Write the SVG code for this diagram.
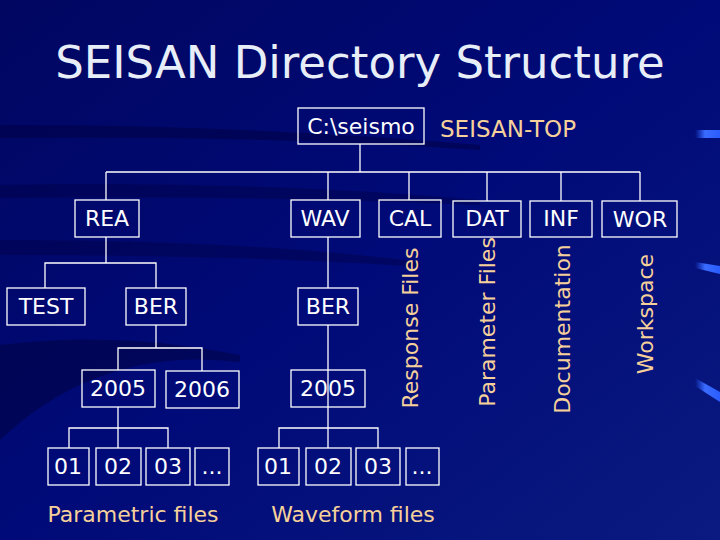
<svg xmlns="http://www.w3.org/2000/svg" width="720" height="540" viewBox="0 0 720 540">
<defs>
<linearGradient id="bg" x1="0" y1="0" x2="1" y2="1">
<stop offset="0" stop-color="#000660"/>
<stop offset="0.5" stop-color="#000a78"/>
<stop offset="1" stop-color="#0a1a80"/>
</linearGradient>
<linearGradient id="bar" x1="0" y1="0" x2="1" y2="0">
<stop offset="0" stop-color="#2a5cff" stop-opacity="0"/>
<stop offset="0.4" stop-color="#3a6cff"/>
<stop offset="1" stop-color="#2a5cff"/>
</linearGradient>
<style>
.b{fill:none;stroke:#fff;stroke-width:1.3}
.t{font-family:"DejaVu Sans",sans-serif;fill:#fff;font-size:22px;text-anchor:middle}
.p{font-family:"DejaVu Sans",sans-serif;fill:#f6d09a;text-anchor:middle}
.c line, .c polyline{stroke:#fff;stroke-width:1.3;fill:none}
</style>
</defs>
<rect width="720" height="540" fill="url(#bg)"/>
<path d="M0 125 Q250 125 480 145 L480 150 Q250 135 0 138Z" fill="#000040" opacity="0.5"/>
<path d="M0 185 Q250 180 480 200 L480 205 Q250 195 0 198Z" fill="#000040" opacity="0.4"/>
<path d="M0 240 Q250 240 420 262 L420 267 Q250 255 0 255Z" fill="#000040" opacity="0.4"/>
<path d="M0 345 Q120 330 240 355 L240 362 Q100 345 0 440Z" fill="#000030" opacity="0.4"/>
<rect x="695" y="130" width="25" height="8" fill="url(#bar)"/>
<path d="M695 262 L720 266 L720 274 L695 268Z" fill="url(#bar)"/>
<path d="M695 378 L720 392 L720 402 L695 386Z" fill="url(#bar)"/>
<text x="360" y="78" font-family="DejaVu Sans,sans-serif" font-size="45" fill="#e8eef8" text-anchor="middle">SEISAN Directory Structure</text>
<text x="440" y="137" class="p" font-size="23" style="text-anchor:start">SEISAN-TOP</text>
<g class="c" id="connectors">
<line x1="360" y1="144" x2="360" y2="172"/>
<line x1="106" y1="172" x2="640" y2="172"/>
<line x1="106" y1="172" x2="106" y2="200"/>
<line x1="328" y1="172" x2="328" y2="200"/>
<line x1="409" y1="172" x2="409" y2="200"/>
<line x1="487" y1="172" x2="487" y2="201"/>
<line x1="561" y1="172" x2="561" y2="201"/>
<line x1="640" y1="172" x2="640" y2="201"/>
<line x1="106" y1="237" x2="106" y2="263"/>
<polyline points="45,288 45,263 156,263 156,288"/>
<line x1="328" y1="237" x2="328" y2="288"/>
<line x1="156" y1="325" x2="156" y2="348"/>
<polyline points="118,370 118,348 202,348 202,371"/>
<line x1="118" y1="407" x2="118" y2="448"/>
<polyline points="69,448 69,428 168,428 168,448"/>
<line x1="328" y1="325" x2="328" y2="448"/>
<polyline points="279,448 279,428 378,428 378,448"/>
</g>
<g id="root"><rect class="b" x="298" y="108" width="126" height="36"/><text class="t" x="361" y="134">C:\seismo</text></g>
<g id="rea"><rect class="b" x="75" y="200" width="64" height="37"/><text class="t" x="107" y="226">REA</text></g>
<g id="wav"><rect class="b" x="291" y="200" width="69" height="37"/><text class="t" x="325" y="226">WAV</text></g>
<g id="cal"><rect class="b" x="379" y="200" width="62" height="37"/><text class="t" x="410" y="226">CAL</text></g>
<g id="dat"><rect class="b" x="453" y="201" width="68" height="36"/><text class="t" x="487" y="226">DAT</text></g>
<g id="inf"><rect class="b" x="530" y="201" width="62" height="36"/><text class="t" x="561" y="226">INF</text></g>
<g id="wor"><rect class="b" x="602" y="201" width="75" height="36"/><text class="t" x="640" y="227">WOR</text></g>
<g id="test"><rect class="b" x="7" y="288" width="78" height="37"/><text class="t" x="46" y="314">TEST</text></g>
<g id="ber1"><rect class="b" x="126" y="288" width="60" height="37"/><text class="t" x="156" y="314">BER</text></g>
<g id="ber2"><rect class="b" x="298" y="288" width="60" height="37"/><text class="t" x="328" y="314">BER</text></g>
<g id="y2005a"><rect class="b" x="82" y="370" width="73" height="37"/><text class="t" x="118" y="396">2005</text></g>
<g id="y2006"><rect class="b" x="166" y="371" width="73" height="37"/><text class="t" x="202" y="397">2006</text></g>
<g id="y2005b"><rect class="b" x="291" y="370" width="74" height="37"/><text class="t" x="328" y="396">2005</text></g>
<g id="p01"><rect class="b" x="48" y="448" width="41" height="37"/><text class="t" x="68" y="474">01</text></g>
<g id="p02"><rect class="b" x="96" y="448" width="45" height="37"/><text class="t" x="118" y="474">02</text></g>
<g id="p03"><rect class="b" x="146" y="448" width="44" height="37"/><text class="t" x="168" y="474">03</text></g>
<g id="pdots"><rect class="b" x="195" y="448" width="34" height="37"/><text class="t" x="212" y="474">...</text></g>
<g id="w01"><rect class="b" x="258" y="448" width="41" height="37"/><text class="t" x="278" y="474">01</text></g>
<g id="w02"><rect class="b" x="306" y="448" width="45" height="37"/><text class="t" x="328" y="474">02</text></g>
<g id="w03"><rect class="b" x="356" y="448" width="44" height="37"/><text class="t" x="378" y="474">03</text></g>
<g id="wdots"><rect class="b" x="406" y="448" width="33" height="37"/><text class="t" x="422" y="474">...</text></g>
<text class="p" x="133" y="522" font-size="22">Parametric files</text>
<text class="p" x="353" y="522" font-size="22">Waveform files</text>
<text class="p" font-size="22" transform="translate(418,328) rotate(-90)">Response Files</text>
<text class="p" font-size="22" transform="translate(495,322) rotate(-90)">Parameter Files</text>
<text class="p" font-size="22" transform="translate(570,329) rotate(-90)">Documentation</text>
<text class="p" font-size="22" transform="translate(653,314) rotate(-90)">Workspace</text>
</svg>
